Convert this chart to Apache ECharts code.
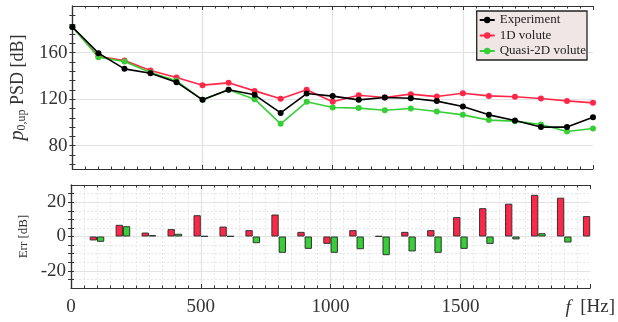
<!DOCTYPE html>
<html>
<head>
<meta charset="utf-8">
<script src="https://cdn.jsdelivr.net/npm/echarts@6/dist/echarts.min.js"></script>
<style>
  html, body { margin: 0; padding: 0; background: #fff; }
  #chart { width: 618px; height: 322px; }
</style>
</head>
<body>
<div id="chart"></div>
<script>
var freq = [0, 100, 200, 300, 400, 500, 600, 700, 800, 900, 1000,
            1100, 1200, 1300, 1400, 1500, 1600, 1700, 1800, 1900, 2000];
var experiment = [182, 159.5, 146, 142.3, 134.6, 119.4, 128, 123.7, 108.2, 124.8, 122.6,
                  119.4, 121.4, 120.8, 118.3, 113.7, 106.5, 101.6, 96, 96, 104.5];
var volute1D = [182, 156.6, 153.1, 144.6, 138.6, 132, 134, 127.1, 120.3, 128, 117.7,
                123.4, 121.4, 124.3, 122.2, 125.1, 122.8, 122, 120.5, 118.5, 116.8];
var quasi2D = [182, 156, 152.3, 142.8, 135.7, 119.4, 128, 120, 98.8, 117.7, 112.8,
               112.3, 110.5, 112, 109.4, 106.5, 102, 101.1, 98.2, 92.2, 94.8];

var errFreq = [100, 200, 300, 400, 500, 600, 700, 800, 900, 1000,
               1100, 1200, 1300, 1400, 1500, 1600, 1700, 1800, 1900, 2000];
var err1D = [-2.3, 6.8, 2.3, 4.3, 12.4, 5.8, 3.7, 12.8, 2.7, -4.3,
             3.7, 0.2, 2.7, 3.7, 11.3, 16.5, 19.1, 24.3, 22.6, 11.9];
// the 2000 Hz quasi-2D bar falls outside the frame in the picture
var errQ2D = [-3.1, 6.0, 0.8, 1.6, 0.2, 0.2, -3.9, -9.5, -7.2, -9.5,
              -7.4, -10.9, -8.7, -9.5, -7.2, -4.3, -1.7, 1.9, -3.5, null];

var psdLabels = [80, 120, 160];
var psdTicks = [64, 72, 80, 88, 96, 104, 112, 120, 128, 136, 144, 152, 160, 168, 176, 184, 192];
var errLabels = [-20, 0, 20];
var errTicks = [-25, -20, -15, -10, -5, 0, 5, 10, 15, 20, 25];

var red = '#ff2747';
var green = '#36cf36';
var font = 'Liberation Serif';
var frame = '#333';
var grid = '#e2e2e2';

function pairs(xs, ys) {
  return xs.map(function (x, i) { return [x, ys[i]]; });
}

var chart = echarts.init(document.getElementById('chart'));

function xAx(gi, pos, extra) {
  var a = {
    type: 'value', gridIndex: gi, position: pos, min: 0, max: 2000, interval: 500,
    axisLine: { show: true, onZero: false, lineStyle: { color: frame, width: 1.2 } },
    axisTick: { show: true, inside: true, length: 4, lineStyle: { color: frame } },
    minorTick: { show: true, splitNumber: 10, length: 2.5, lineStyle: { color: frame } },
    axisLabel: { show: false },
    splitLine: { show: false }
  };
  return Object.assign(a, extra || {});
}

var option = {
  animation: false,
  grid: [
    { left: 71, right: 25, top: 6, height: 163 },
    { left: 71, right: 25, top: 185, height: 103 }
  ],
  legend: {
    data: ['Experiment', '1D volute', 'Quasi-2D volute'],
    orient: 'vertical',
    right: 31, top: 11,
    backgroundColor: '#f1e6e6',
    borderColor: '#222', borderWidth: 1.3, borderRadius: 0,
    padding: [2, 1, 2, 2],
    itemGap: 1.5,
    itemWidth: 15, itemHeight: 8,
    textStyle: { fontFamily: font, fontSize: 13, color: '#222', lineHeight: 14 }
  },
  xAxis: [
    xAx(0, 'bottom', {
      splitLine: { show: true, showMinLine: false, showMaxLine: false, lineStyle: { color: grid, width: 1.2 } }
    }),
    xAx(0, 'top'),
    xAx(1, 'bottom', {
      axisLabel: {
        show: true, margin: 10, fontFamily: font, fontSize: 19, color: '#333',
        formatter: function (v) { return v === 2000 ? '{i|f}  [Hz]' : String(v); },
        rich: { i: { fontFamily: font, fontStyle: 'italic', fontSize: 19, color: '#333' } }
      },
      splitLine: { show: true, showMinLine: false, showMaxLine: false, lineStyle: { color: grid, width: 1.2 } },
      minorSplitLine: { show: true, lineStyle: { color: '#e6e6e6', type: [2, 2], width: 1 } }
    }),
    xAx(1, 'top')
  ],
  yAxis: [
    {
      type: 'value', gridIndex: 0, position: 'left', min: 60, max: 200,
      name: '{p|p}{s|0,up} PSD [dB]', nameLocation: 'middle', nameGap: 37,
      nameTextStyle: {
        fontFamily: font, fontSize: 18, color: '#333',
        rich: {
          p: { fontFamily: font, fontStyle: 'italic', fontSize: 20, color: '#333' },
          s: { fontFamily: font, fontSize: 12, color: '#333', verticalAlign: 'bottom', padding: [8, 0, 0, 0] }
        }
      },
      axisLine: { show: true, lineStyle: { color: frame, width: 1.2 } },
      axisTick: { show: true, inside: true, length: 3, customValues: psdTicks, lineStyle: { color: frame } },
      axisLabel: { show: true, customValues: psdLabels, margin: 5, fontFamily: font, fontSize: 19, color: '#333' },
      splitLine: { show: false }
    },
    {
      type: 'value', gridIndex: 0, position: 'right', min: 60, max: 200,
      axisLine: { show: true, lineStyle: { color: frame, width: 1.2 } },
      axisTick: { show: true, inside: true, length: 3, customValues: psdTicks, lineStyle: { color: frame } },
      axisLabel: { show: false },
      splitLine: { show: false }
    },
    {
      type: 'value', gridIndex: 0, position: 'left', min: 60, max: 200,
      axisLine: { show: false },
      axisTick: { show: false, customValues: psdLabels },
      axisLabel: { show: false },
      splitLine: { show: true, lineStyle: { color: grid, width: 1.2 } }
    },
    {
      type: 'value', gridIndex: 1, position: 'left', min: -30, max: 30,
      name: 'Err [dB]', nameLocation: 'middle', nameGap: 35,
      nameTextStyle: { fontFamily: font, fontSize: 13, color: '#333' },
      axisLine: { show: true, lineStyle: { color: frame, width: 1.2 } },
      axisTick: { show: true, inside: true, length: 3, customValues: errTicks, lineStyle: { color: frame } },
      axisLabel: { show: true, customValues: errLabels, margin: 5, fontFamily: font, fontSize: 19, color: '#333' },
      splitLine: { show: true, lineStyle: { color: '#e6e6e6', type: [2, 2], width: 1 } }
    },
    {
      type: 'value', gridIndex: 1, position: 'right', min: -30, max: 30,
      axisLine: { show: true, lineStyle: { color: frame, width: 1.2 } },
      axisTick: { show: true, inside: true, length: 3, customValues: errTicks, lineStyle: { color: frame } },
      axisLabel: { show: false },
      splitLine: { show: false }
    },
    {
      type: 'value', gridIndex: 1, position: 'left', min: -30, max: 30,
      axisLine: { show: false },
      axisTick: { show: false, customValues: errLabels },
      axisLabel: { show: false },
      splitLine: { show: true, lineStyle: { color: grid, width: 1.2 } }
    }
  ],
  series: [
    {
      name: 'Experiment', type: 'line', xAxisIndex: 0, yAxisIndex: 0,
      data: pairs(freq, experiment), symbol: 'circle', symbolSize: 6,
      itemStyle: { color: '#000' }, lineStyle: { color: '#000', width: 1.6 }, z: 4
    },
    {
      name: '1D volute', type: 'line', xAxisIndex: 0, yAxisIndex: 0,
      data: pairs(freq, volute1D), symbol: 'circle', symbolSize: 6,
      itemStyle: { color: red }, lineStyle: { color: red, width: 1.6 }, z: 3
    },
    {
      name: 'Quasi-2D volute', type: 'line', xAxisIndex: 0, yAxisIndex: 0,
      data: pairs(freq, quasi2D), symbol: 'circle', symbolSize: 6,
      itemStyle: { color: green }, lineStyle: { color: green, width: 1.6 }, z: 3
    },
    {
      name: 'err1D', type: 'bar', xAxisIndex: 2, yAxisIndex: 3,
      data: pairs(errFreq, err1D), barWidth: 7.3, barGap: '0%',
      itemStyle: { color: red, borderColor: '#333', borderWidth: 1 }
    },
    {
      name: 'errQ2D', type: 'bar', xAxisIndex: 2, yAxisIndex: 3,
      data: pairs(errFreq, errQ2D), barWidth: 7.3, barGap: '0%',
      itemStyle: { color: green, borderColor: '#333', borderWidth: 1 }
    }
  ]
};
chart.setOption(option);
</script>
</body>
</html>
